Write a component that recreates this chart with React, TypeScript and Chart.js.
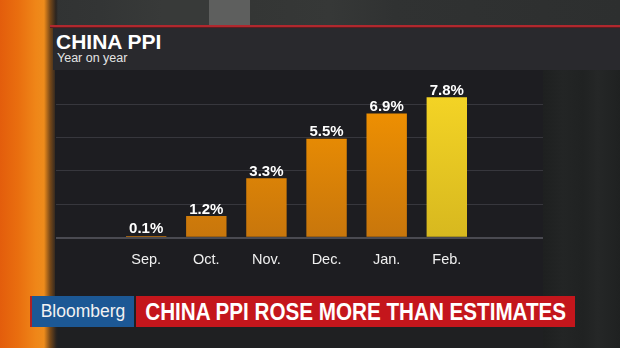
import React, { useEffect, useRef } from "react";
import { Chart, registerables } from "chart.js";

Chart.register(...registerables);

const categories = ["Sep.", "Oct.", "Nov.", "Dec.", "Jan.", "Feb."];
const values = [0.1, 1.2, 3.3, 5.5, 6.9, 7.8];
const gridValues = [0, 1.855, 3.71, 5.565, 7.42];
const highlightIndex = 5;
const titleText = "CHINA PPI";
const subtitleText = "Year on year";
const brandText = "Bloomberg";
const headlineText = "CHINA PPI ROSE MORE THAN ESTIMATES";

const FONT = "'Liberation Sans', Arial, Helvetica, sans-serif";

const valueLabelPlugin = {
  id: "valueLabels",
  afterDatasetsDraw(chart: any) {
    const ctx = chart.ctx;
    const meta = chart.getDatasetMeta(0);
    ctx.save();
    ctx.fillStyle = "#ffffff";
    ctx.font = `bold 15px ${FONT}`;
    ctx.textAlign = "center";
    ctx.textBaseline = "alphabetic";
    meta.data.forEach((bar: any, i: number) => {
      ctx.fillText(`${values[i].toFixed(1)}%`, bar.x, bar.y - 2.5);
    });
    ctx.restore();
  },
};

function ChartCanvas() {
  const ref = useRef<HTMLCanvasElement | null>(null);
  useEffect(() => {
    if (!ref.current) return;
    const chart = new Chart(ref.current, {
      type: "bar",
      data: {
        datasets: [
          {
            data: values.map((v, i) => ({ x: i, y: v })),
            backgroundColor: (c: any) => {
              const ch = c.chart;
              if (!ch.chartArea || !ch.scales.y) return "#f08c00";
              const ys = ch.scales.y;
              const g = ch.ctx.createLinearGradient(0, ys.getPixelForValue(8), 0, ys.getPixelForValue(0));
              if (c.dataIndex === highlightIndex) {
                g.addColorStop(0, "#f4d425");
                g.addColorStop(1, "#d7b81f");
              } else {
                g.addColorStop(0, "#f39300");
                g.addColorStop(1, "#c8760c");
              }
              return g;
            },
            borderWidth: 0,
            barPercentage: 0.84,
            categoryPercentage: 0.8,
          },
        ],
      },
      options: {
        animation: false,
        responsive: false,
        maintainAspectRatio: false,
        layout: { padding: { left: 56, right: 77, top: 70.3, bottom: 70.3 } },
        plugins: { legend: { display: false }, tooltip: { enabled: false } },
        scales: {
          x: {
            type: "linear",
            min: -1.5,
            max: 6.6,
            offset: false,
            bounds: "data",
            grid: { display: false, drawTicks: false, offset: false },
            border: { display: false },
            afterBuildTicks: (s: any) => {
              s.ticks = categories.map((_, i) => ({ value: i }));
            },
            afterFit: (s: any) => {
              s.height = 40;
            },
            ticks: {
              callback: (v: any) => categories[v as number] ?? "",
              color: "#f0f0f0",
              font: { family: FONT, size: 14.5 },
              padding: 14,
              maxRotation: 0,
              autoSkip: false,
            },
          },
          y: {
            min: 0,
            max: 9.3,
            border: { display: false },
            afterBuildTicks: (s: any) => {
              s.ticks = gridValues.map((v) => ({ value: v }));
            },
            afterFit: (s: any) => {
              s.width = 0;
            },
            ticks: { display: false },
            grid: {
              drawTicks: false,
              color: (c: any) => (c.tick && c.tick.value === 0 ? "#4a4a51" : "#37373d"),
              lineWidth: (c: any) => (c.tick && c.tick.value === 0 ? 2 : 1),
            },
          },
        },
      },
      plugins: [valueLabelPlugin],
    } as any);
    return () => chart.destroy();
  }, []);
  return (
    <canvas
      ref={ref}
      width={620}
      height={348}
      style={{ position: "absolute", left: 0, top: 0, width: 620, height: 348 }}
    />
  );
}

export default function App() {
  const abs = (s: React.CSSProperties): React.CSSProperties => ({ position: "absolute", ...s });
  return (
    <div
      style={{
        position: "fixed",
        left: 0,
        top: 0,
        width: 620,
        height: 348,
        overflow: "hidden",
        background: "#1f2022",
        fontFamily: FONT,
      }}
    >
      {/* top background stripes */}
      <div
        style={abs({
          left: 0,
          top: 0,
          width: 620,
          height: 27,
          background:
            "linear-gradient(to right, #2f3131 0px, #333535 100px, #383a39 162px, #383a39 209px, #5e5f5e 209px, #5e5f5e 250px, #343635 250px, #363837 330px, #303232 395px, #2d2f2f 620px)",
        })}
      />
      {/* right lower background */}
      <div
        style={abs({
          left: 543,
          top: 70,
          width: 77,
          height: 278,
          background:
            "linear-gradient(to right, #1e2020 0px, #232525 20px, #202222 40px, #252727 55px, #1f2121 77px)",
        })}
      />
      {/* orange strip */}
      <div
        style={abs({
          left: 0,
          top: 0,
          width: 58,
          height: 348,
          background:
            "linear-gradient(to right, #e35d0c 0px, #e96e0f 18px, #ef8618 36px, #ee8c1c 44px, #7a4a18 50px, #2a2420 56px, rgba(31,32,34,0) 58px)",
        })}
      />
      {/* red line */}
      <div style={abs({ left: 50, top: 25, width: 570, height: 2, background: "#b0282e" })} />
      <div style={abs({ left: 50, top: 27, width: 570, height: 1, background: "#5e1c20" })} />
      {/* title panel */}
      <div style={abs({ left: 53, top: 28, width: 567, height: 42, background: "#29292d" })} />
      {/* chart panel */}
      <div style={abs({ left: 55, top: 70, width: 488, height: 226, background: "#1d1d21" })} />
      {/* titles */}
      <div
        style={abs({
          left: 56,
          top: 31,
          fontSize: 21,
          lineHeight: "21px",
          fontWeight: "bold",
          color: "#ffffff",
          whiteSpace: "nowrap",
        })}
      >
        {titleText}
      </div>
      <div
        style={abs({
          left: 57,
          top: 52,
          fontSize: 12.5,
          lineHeight: "13px",
          color: "#e4e4e4",
          whiteSpace: "nowrap",
        })}
      >
        {subtitleText}
      </div>
      <ChartCanvas />
      {/* banner */}
      <div style={abs({ left: 30, top: 296, width: 2, height: 31, background: "#b02024" })} />
      <div
        style={abs({
          left: 32,
          top: 296,
          width: 102,
          height: 31,
          background: "#1c5895",
          display: "flex",
          alignItems: "center",
          justifyContent: "center",
          color: "#f2f2f2",
          fontSize: 17.5,
          whiteSpace: "nowrap",
        })}
      >
        {brandText}
      </div>
      <div
        style={abs({
          left: 136,
          top: 296,
          width: 439,
          height: 31,
          background: "#c4161c",
          display: "flex",
          alignItems: "center",
          justifyContent: "center",
          color: "#ffffff",
          whiteSpace: "nowrap",
        })}
      >
        <span
          style={{
            display: "inline-block",
            fontSize: 24,
            fontWeight: "bold",
            lineHeight: "31px",
            transform: "scaleX(0.86)",
            flexShrink: 0,
          }}
        >
          {headlineText}
        </span>
      </div>
    </div>
  );
}
